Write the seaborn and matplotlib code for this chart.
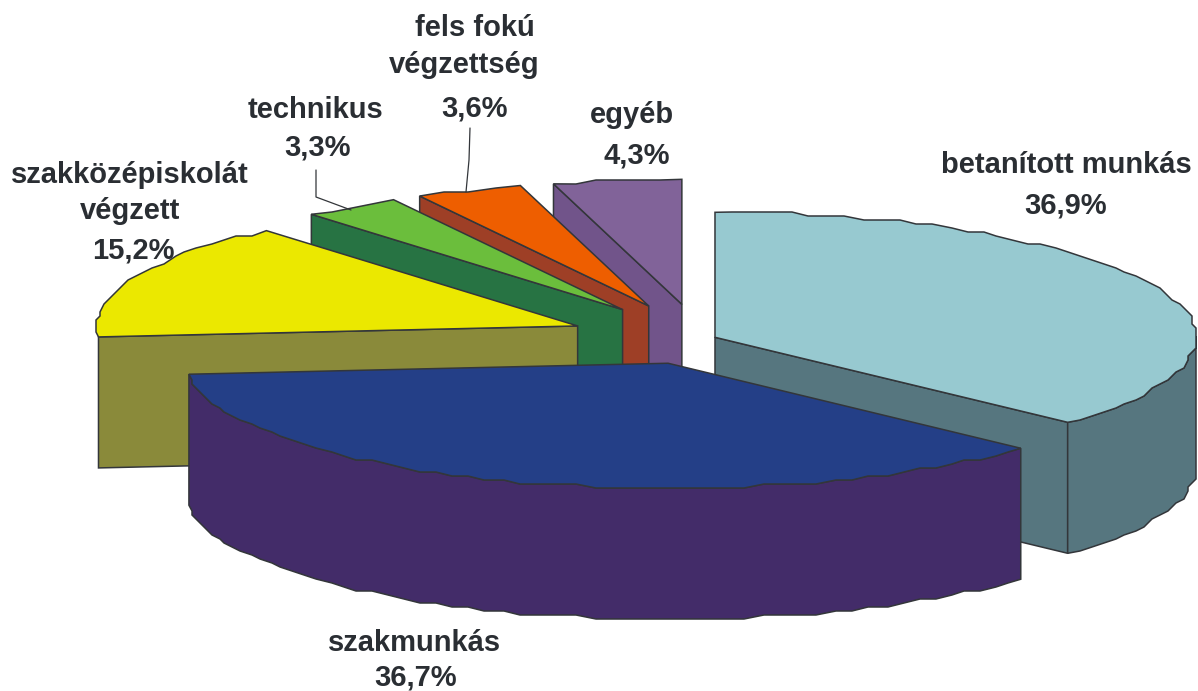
import numpy as np
import matplotlib
matplotlib.use("Agg")
import matplotlib.pyplot as plt
from matplotlib.patches import Polygon
import seaborn as sns

# shares in percent, clockwise from 12 o'clock
categories = ["betanított munkás", "szakmunkás", "szakközépiskolát végzett",
              "technikus", "fels fokú végzettség", "egyéb"]
values = [36.9, 36.7, 15.2, 3.3, 3.6, 4.3]
top_colors = ["#97C9D0", "#243F87", "#EBE800", "#6BBE3C", "#EE5E00", "#816399"]
side_colors = ["#56767F", "#432C69", "#8A8A3A", "#277343", "#9E3F26", "#71548A"]
explode = [0.034, 0.205, 0.275, 0.285, 0.285, 0.28]

# label lines per category, centre of every line in figure pixels
label_lines = [["betanított munkás"], ["szakmunkás"], ["szakközépiskolát", "végzett"],
               ["technikus"], ["fels fokú", "végzettség"], ["egyéb"]]
label_pos = [[(1066, 165)], [(415, 643)], [(130, 175), (130, 211)],
             [(315, 110)], [(475, 28), (464, 65)], [(632, 115)]]
value_pos = [(1066, 205), (416, 678), (133, 250), (318, 147), (475, 108), (637, 155)]

CX, CY = 700, 339
RX, RY = 481, 125
DEPTH = 131
EDGE = "#33363A"
TEXT = "#2A2E33"

sns.set_theme(style="white")
plt.rcParams["font.family"] = ["Liberation Sans", "DejaVu Sans"]


def rim(cx, cy, a0, a1):
    # jagged rim as in the low-res original, ends stay on the exact ellipse
    deg = np.linspace(a0, a1, max(int((a1 - a0) / 2.2), 2))
    t = np.radians(deg)
    x = cx + RX * np.sin(t)
    y = cy - RY * np.cos(t)
    qx = np.round(x / 4) * 4
    qy = np.round(y / 4) * 4
    qx[0], qy[0], qx[-1], qy[-1] = x[0], y[0], x[-1], y[-1]
    return deg, np.column_stack([qx, qy])


def wall(ax, apex, end, color, zorder):
    pts = [apex, end, (end[0], end[1] + DEPTH), (apex[0], apex[1] + DEPTH)]
    ax.add_patch(Polygon(pts, closed=True, fc=color, ec=EDGE, lw=1.1, zorder=zorder))


fig, ax = plt.subplots(figsize=(11.98, 6.91), dpi=100)
fig.subplots_adjust(0, 0, 1, 1)
ax.set_xlim(0, 1198)
ax.set_ylim(691, 0)
ax.axis("off")

edges = np.concatenate([[0], np.cumsum(values)]) / np.sum(values) * 360
# back slices first, the big front ones over them
draw_order = [5, 4, 3, 2, 0, 1]
for z, i in enumerate(draw_order):
    a0, a1 = edges[i], edges[i + 1]
    mid = np.radians((a0 + a1) / 2)
    cx = CX + explode[i] * RX * np.sin(mid)
    cy = CY - explode[i] * RY * np.cos(mid)
    deg, pts = rim(cx, cy, a0, a1)
    base = z * 10

    if np.sin(np.radians(a0)) < -1e-6:
        wall(ax, (cx, cy), pts[0], side_colors[i], base)
    if np.sin(np.radians(a1)) > 1e-6:
        wall(ax, (cx, cy), pts[-1], side_colors[i], base)

    # outer wall hangs from the same rim points as the top face
    front = pts[(deg >= 88) & (deg <= 270)]
    # a sliver of outer wall on the far left would only stick out past the corner
    if min(a1, 270) - max(a0, 90) > 10:
        low = front + [0, DEPTH]
        ax.add_patch(Polygon(np.vstack([front, low[::-1]]), closed=True,
                             fc=side_colors[i], ec=EDGE, lw=1.1, zorder=base + 1))

    ax.add_patch(Polygon(np.vstack([[cx, cy], pts]), closed=True,
                         fc=top_colors[i], ec=EDGE, lw=1.1, zorder=base + 2))

# leader lines for the two small slices
ax.plot([316, 316, 351], [170, 197, 210], color=EDGE, lw=0.9, zorder=100)
ax.plot([470, 469, 466], [128, 160, 192], color=EDGE, lw=0.9, zorder=100)

for lines, poss, val, vpos in zip(label_lines, label_pos, values, value_pos):
    for line, (x, y) in zip(lines, poss):
        ax.text(x, y, line, ha="center", va="center", fontsize=21,
                fontweight="bold", color=TEXT, zorder=101)
    ax.text(vpos[0], vpos[1], f"{val:.1f}%".replace(".", ","), ha="center", va="center",
            fontsize=21, fontweight="bold", color=TEXT, zorder=101)

fig.savefig("out.png", dpi=100)
